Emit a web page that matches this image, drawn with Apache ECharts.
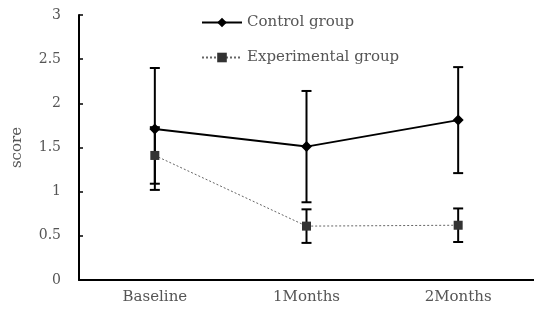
<!DOCTYPE html>
<html>
<head>
<meta charset="utf-8">
<script src="https://cdn.jsdelivr.net/npm/echarts@6/dist/echarts.min.js"></script>
<style>
  html, body { margin: 0; padding: 0; background: #fff; overflow: hidden; }
  #chart { width: 534px; height: 325px; }
</style>
</head>
<body>
<div id="chart"></div>
<script>
// Mean score per time point with standard deviation
const categories = ['Baseline', '1Months', '2Months'];
const controlMean = [1.71, 1.51, 1.81];
const controlSD = [0.69, 0.63, 0.60];
const experimentalMean = [1.41, 0.61, 0.62];
const experimentalSD = [0.32, 0.19, 0.19];
const yTicks = [0, 0.5, 1, 1.5, 2, 2.5, 3];

const serif = '"DejaVu Serif", "Liberation Serif", serif';

function errorData(mean, sd) {
  return mean.map((m, i) => [i, m - sd[i], m + sd[i]]);
}

function renderErrorBar(params, api) {
  const x = api.value(0);
  const lo = api.coord([x, api.value(1)]);
  const hi = api.coord([x, api.value(2)]);
  const half = 5;
  const style = { stroke: '#000', lineWidth: 2 };
  return {
    type: 'group',
    children: [
      { type: 'line', shape: { x1: lo[0], y1: lo[1], x2: hi[0], y2: hi[1] }, style },
      { type: 'line', shape: { x1: lo[0] - half, y1: lo[1], x2: lo[0] + half, y2: lo[1] }, style },
      { type: 'line', shape: { x1: hi[0] - half, y1: hi[1], x2: hi[0] + half, y2: hi[1] }, style }
    ]
  };
}

const chart = echarts.init(document.getElementById('chart'), null, { renderer: 'canvas' });
chart.setOption({
  animation: false,
  backgroundColor: '#fff',
  // plot area runs slightly past the right edge of the canvas
  grid: { left: 79, width: 460, top: 15, bottom: 45 },
  legend: {
    data: ['Control group', 'Experimental group'],
    orient: 'vertical',
    left: 196,
    top: 10,
    itemWidth: 40,
    itemHeight: 12,
    itemGap: 20,
    textStyle: { fontFamily: serif, fontSize: 15, color: '#555' }
  },
  xAxis: {
    type: 'category',
    data: categories,
    boundaryGap: true,
    axisLine: { lineStyle: { color: '#000', width: 2 } },
    axisTick: { inside: true, length: 4, lineStyle: { color: '#000', width: 1.5 } },
    axisLabel: { fontFamily: serif, fontSize: 15, color: '#555', margin: 10 }
  },
  yAxis: {
    type: 'value',
    min: yTicks[0],
    max: yTicks[yTicks.length - 1],
    interval: 0.5,
    name: 'score',
    nameLocation: 'middle',
    nameGap: 54,
    nameRotate: 90,
    nameTextStyle: { fontFamily: serif, fontSize: 15, color: '#555' },
    axisLine: { show: true, lineStyle: { color: '#000', width: 2 } },
    axisTick: { show: true, inside: true, length: 4, lineStyle: { color: '#000', width: 1.5 } },
    splitLine: { show: false },
    axisLabel: { fontFamily: serif, fontSize: 14, color: '#555', margin: 18 }
  },
  series: [
    {
      name: 'Control SD',
      type: 'custom',
      renderItem: renderErrorBar,
      data: errorData(controlMean, controlSD),
      z: 1
    },
    {
      name: 'Experimental SD',
      type: 'custom',
      renderItem: renderErrorBar,
      data: errorData(experimentalMean, experimentalSD),
      z: 1
    },
    {
      name: 'Control group',
      type: 'line',
      data: controlMean,
      symbol: 'diamond',
      symbolSize: 11,
      itemStyle: { color: '#000' },
      lineStyle: { color: '#000', width: 2 },
      z: 3
    },
    {
      name: 'Experimental group',
      type: 'line',
      data: experimentalMean,
      symbol: 'rect',
      symbolSize: 9,
      itemStyle: { color: '#333' },
      lineStyle: { color: '#666', width: 1, type: [2, 2] },
      z: 3
    }
  ]
});
</script>
</body>
</html>
